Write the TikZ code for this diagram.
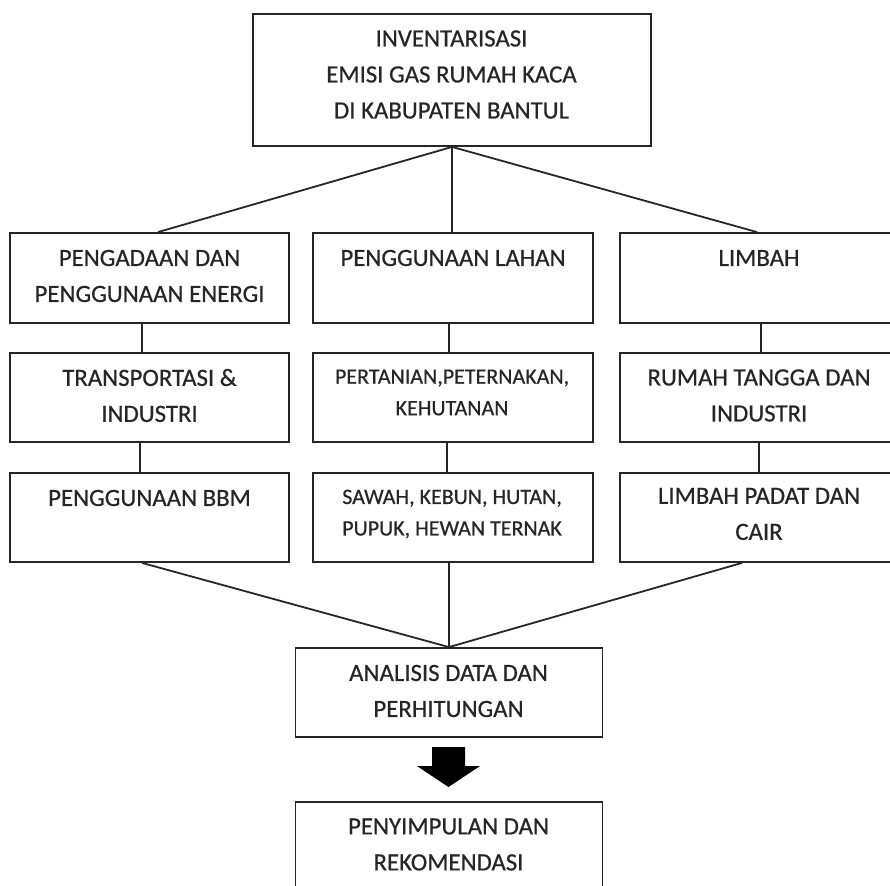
\documentclass[tikz,border=0pt]{standalone}
\usepackage{fontspec}
\setmainfont{Carlito}
\newfontfamily\diagfont[FakeBold=0.6]{Carlito}
\tikzset{
  box/.style={draw=black!85, line width=1.8pt, rectangle, inner sep=0pt, fill=none},
  txt/.style={align=center, inner sep=0pt, text=black!85, font=\diagfont\fontsize{24.8}{36}\selectfont},
  txts/.style={align=center, inner sep=0pt, text=black!85, font=\diagfont\fontsize{22}{31.5}\selectfont},
  conn/.style={draw=black!85, line width=1.8pt},
}
\begin{document}
\begin{tikzpicture}[x=1pt,y=-1pt]
\clip (0,0) rectangle (890,885);
% boxes
\node[box, minimum width=398pt, minimum height=132pt] (top) at (452,80) {};
\node[box, minimum width=279pt, minimum height=90pt] (l1) at (149.5,278) {};
\node[box, minimum width=280pt, minimum height=90pt] (m1) at (453,278) {};
\node[box, minimum width=280pt, minimum height=90pt] (r1) at (760,278) {};
\node[box, minimum width=279pt, minimum height=89pt] (l2) at (149.5,397.5) {};
\node[box, minimum width=280pt, minimum height=89pt] (m2) at (453,397.5) {};
\node[box, minimum width=280pt, minimum height=89pt] (r2) at (760,397.5) {};
\node[box, minimum width=279pt, minimum height=89pt] (l3) at (149.5,517.5) {};
\node[box, minimum width=280pt, minimum height=89pt] (m3) at (453,517.5) {};
\node[box, minimum width=280pt, minimum height=89pt] (r3) at (760,517.5) {};
\node[box, minimum width=307pt, minimum height=89pt] (ana) at (449,692.5) {};
\node[box, minimum width=307pt, minimum height=89pt] (fin) at (449,846.5) {};
% texts
\node[txt] (ttop) at (451.5,74.5) {INVENTARISASI\\EMISI GAS RUMAH KACA\\DI KABUPATEN BANTUL};
\node[txt] (tl1) at (149.5,276) {PENGADAAN DAN\\PENGGUNAAN ENERGI};
\node[txt] (tm1) at (453,258) {PENGGUNAAN LAHAN};
\node[txt] (tr1) at (759,258) {LIMBAH};
\node[txt] (tl2) at (149.5,395.5) {TRANSPORTASI \&\\INDUSTRI};
\node[txts] (tm2) at (452,392.5) {PERTANIAN,PETERNAKAN,\\KEHUTANAN};
\node[txt] (tr2) at (759,395.5) {RUMAH TANGGA DAN\\INDUSTRI};
\node[txt] (tl3) at (149.5,498) {PENGGUNAAN BBM};
\node[txts] (tm3) at (452,514) {SAWAH, KEBUN, HUTAN,\\PUPUK, HEWAN TERNAK};
\node[txt] (tr3) at (759,514) {LIMBAH PADAT DAN\\CAIR};
\node[txt] (tana) at (448.5,691) {ANALISIS DATA DAN\\PERHITUNGAN};
\node[txt] (tfin) at (448.5,844.5) {PENYIMPULAN DAN\\REKOMENDASI};
% connectors
\draw[conn] (top.south) -- ([xshift=8.5pt]l1.north);
\draw[conn] (top.south) -- (top.south |- m1.north);
\draw[conn] (top.south) -- ([xshift=-3pt]r1.north);
\draw[conn] ([xshift=-7.5pt]l1.south) -- ([xshift=-7.5pt]l2.north);
\draw[conn] ([xshift=-4pt]m1.south) -- ([xshift=-4pt]m2.north);
\draw[conn] ([xshift=1pt]r1.south) -- ([xshift=1pt]r2.north);
\draw[conn] ([xshift=-9.5pt]l2.south) -- ([xshift=-9.5pt]l3.north);
\draw[conn] ([xshift=-6pt]m2.south) -- ([xshift=-6pt]m3.north);
\draw[conn] ([xshift=-1pt]r2.south) -- ([xshift=-1pt]r3.north);
\draw[conn] ([xshift=-7.5pt]l3.south) -- (ana.north);
\draw[conn] (m3.south -| ana.north) -- (ana.north);
\draw[conn] ([xshift=-18pt]r3.south) -- (ana.north);
% block arrow
\fill[black] (432,747) -- (465,747) -- (465,766) -- (480,766) -- (448.5,787) -- (417,766) -- (432,766) -- cycle;
\end{tikzpicture}
\end{document}
